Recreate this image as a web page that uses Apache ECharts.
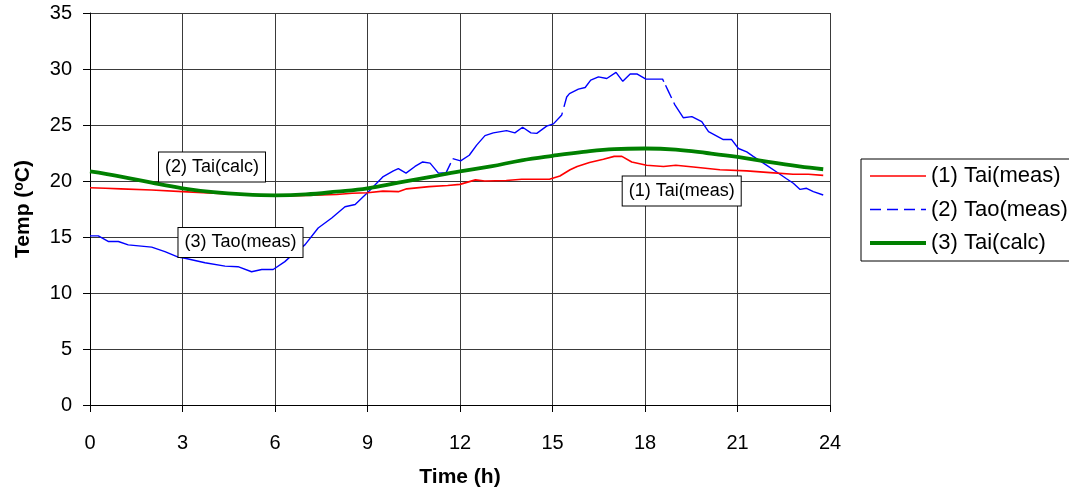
<!DOCTYPE html>
<html>
<head>
<meta charset="utf-8">
<script src="https://cdn.jsdelivr.net/npm/echarts@6/dist/echarts.min.js"></script>
<style>
  html, body { margin: 0; padding: 0; background: #fff; }
  #chart { width: 1069px; height: 497px; }
</style>
</head>
<body>
<div id="chart"></div>
<script>
// Hourly axis ticks
var xTicks = [0, 3, 6, 9, 12, 15, 18, 21, 24];
var yTicks = [0, 5, 10, 15, 20, 25, 30, 35];

// (1) Indoor air temperature, measured
var taiMeasHours = [0, 0.5, 1, 2, 3, 4, 5, 6, 7, 8, 8.5, 9, 9.5, 10, 10.27, 11, 11.6, 12, 12.5, 12.8, 13.5, 14, 14.9,
  15.24, 15.57, 15.8, 16.2, 16.65, 17.0, 17.25, 17.57, 18.05, 18.6, 19.0, 19.57, 20.43, 21.3, 22.06, 22.8, 23.3, 23.78];
var taiMeasValues = [19.4, 19.35, 19.3, 19.2, 19.05, 18.9, 18.8, 18.65, 18.7, 18.8, 18.9, 18.95, 19.1, 19.05, 19.3, 19.5, 19.6, 19.7, 20.1, 20.0, 20.05, 20.15, 20.15,
  20.45, 21.0, 21.3, 21.65, 21.95, 22.2, 22.2, 21.7, 21.4, 21.3, 21.4, 21.25, 21.0, 20.9, 20.75, 20.6, 20.6, 20.5];

// (2) Outdoor air temperature, measured
var taoMeasHours = [0, 0.27, 0.59, 0.92, 1.24, 2.0, 2.43, 2.86, 3.08, 3.73, 4.38, 4.8, 5.24, 5.57, 5.94, 6.32, 6.6, 6.97,
  7.4, 7.84, 8.27, 8.6, 9.03, 9.51, 9.84, 10.0, 10.25, 10.54, 10.79, 11.03, 11.3, 11.55, 11.7, 11.76, 12.02, 12.3, 12.54,
  12.81, 13.08, 13.51, 13.78, 14.03, 14.3, 14.49, 14.81, 15.03, 15.3, 15.46, 15.55, 15.84, 16.06, 16.24, 16.49, 16.76,
  17.06, 17.28, 17.52, 17.75, 18.03, 18.33, 18.57, 18.76, 18.97, 19.24, 19.52, 19.84, 20.06, 20.27, 20.54, 20.81, 21.03,
  21.3, 21.51, 21.95, 22.27, 22.59, 22.81, 23.03, 23.24, 23.46, 23.78];
var taoMeasValues = [15.1, 15.1, 14.6, 14.6, 14.3, 14.1, 13.7, 13.2, 13.1, 12.7, 12.4, 12.35, 11.9, 12.1, 12.1, 12.8, 13.5, 14.3,
  15.8, 16.7, 17.7, 17.9, 19.05, 20.4, 20.9, 21.1, 20.7, 21.3, 21.7, 21.6, 20.7, 20.75, 21.6, 22.0, 21.8, 22.3, 23.2,
  24.05, 24.3, 24.5, 24.3, 24.8, 24.3, 24.25, 24.9, 25.1, 25.9, 27.5, 27.8, 28.2, 28.35, 29.0, 29.3, 29.15,
  29.7, 28.9, 29.55, 29.55, 29.1, 29.1, 29.1, 28.0, 26.8, 25.65, 25.75, 25.3, 24.4, 24.1, 23.7, 23.7, 22.9,
  22.6, 22.2, 21.4, 20.8, 20.2, 19.8, 19.25, 19.35, 19.05, 18.75];

// (3) Indoor air temperature, calculated
var taiCalcHours = [0, 1, 2, 3, 4, 5, 6, 7, 8, 9, 10, 11, 12, 13, 14, 15, 16, 17, 18, 19, 20, 21, 22, 23, 23.78];
var taiCalcValues = [20.85, 20.4, 19.85, 19.35, 19.0, 18.8, 18.72, 18.8, 19.05, 19.35, 19.85, 20.35, 20.85, 21.3, 21.85,
  22.25, 22.6, 22.85, 22.9, 22.8, 22.5, 22.15, 21.7, 21.3, 21.05];

var seriesNames = ['(1) Tai(meas)', '(2) Tao(meas)', '(3) Tai(calc)'];

function pairs(xs, ys) {
  return xs.map(function (x, i) { return [x, ys[i]]; });
}

var FONT = '"Liberation Sans", Arial, sans-serif';
var chart = echarts.init(document.getElementById('chart'), null, { renderer: 'canvas' });

// Long-dash stroke for the outdoor series (dash / gap lengths in px along the path)
var taoDash = [420, 5, 134, 6, 127, 4, 14, 5, 3000, 1];

var option = {
  backgroundColor: '#ffffff',
  animation: false,
  grid: { left: 90, right: 239, top: 13, bottom: 92, containLabel: false },
  xAxis: {
    type: 'value',
    min: xTicks[0],
    max: xTicks[xTicks.length - 1],
    interval: 3,
    name: 'Time (h)',
    nameLocation: 'middle',
    nameGap: 62,
    nameTextStyle: { fontFamily: FONT, fontSize: 21, fontWeight: 'bold', color: '#000' },
    axisLine: { show: true, onZero: false, lineStyle: { color: '#000', width: 1 } },
    axisTick: { show: true, inside: false, length: 7, lineStyle: { color: '#000' } },
    axisLabel: { fontFamily: FONT, fontSize: 20, color: '#000', margin: 28 },
    splitLine: { show: true, lineStyle: { color: '#3a3a3a', width: 1 } }
  },
  yAxis: {
    type: 'value',
    min: yTicks[0],
    max: yTicks[yTicks.length - 1],
    interval: 5,
    name: '{t|Temp (}{s|o}{t|C)}',
    nameLocation: 'middle',
    nameGap: 56,
    nameRotate: 90,
    nameTextStyle: {
      rich: {
        t: { fontFamily: FONT, fontSize: 21, fontWeight: 'bold', color: '#000' },
        s: { fontFamily: FONT, fontSize: 14, fontWeight: 'bold', color: '#000', verticalAlign: 'top', padding: [0, 0, 8, 0] }
      }
    },
    axisLine: { show: true, lineStyle: { color: '#000', width: 1 } },
    axisTick: { show: true, inside: false, length: 7, lineStyle: { color: '#000' } },
    axisLabel: { fontFamily: FONT, fontSize: 20, color: '#000', margin: 18 },
    splitLine: { show: true, lineStyle: { color: '#3a3a3a', width: 1 } }
  },
  legend: {
    orient: 'vertical',
    left: 861,
    top: 159,
    padding: [5, 8, 6, 7],
    itemGap: 9.5,
    itemWidth: 56,
    itemHeight: 14,
    borderColor: '#000',
    borderWidth: 1,
    backgroundColor: '#fff',
    itemStyle: { opacity: 0 },
    textStyle: { fontFamily: FONT, fontSize: 22, color: '#000', lineHeight: 24 },
    data: [
      { name: seriesNames[0], lineStyle: { width: 1.5 } },
      { name: seriesNames[1], lineStyle: { type: [11, 6], width: 1.5 } },
      { name: seriesNames[2], lineStyle: { width: 4 } }
    ]
  },
  series: [
    {
      name: seriesNames[0],
      type: 'line',
      data: pairs(taiMeasHours, taiMeasValues),
      symbol: 'none',
      lineStyle: { color: '#ff0000', width: 1.6 },
      itemStyle: { color: '#ff0000' },
      z: 3
    },
    {
      name: seriesNames[1],
      type: 'line',
      data: pairs(taoMeasHours, taoMeasValues),
      symbol: 'none',
      lineStyle: { color: '#0000ff', width: 1.4, type: taoDash },
      itemStyle: { color: '#0000ff' },
      z: 2
    },
    {
      name: seriesNames[2],
      type: 'line',
      data: pairs(taiCalcHours, taiCalcValues),
      symbol: 'none',
      smooth: 0.4,
      lineStyle: { color: '#008000', width: 3.8 },
      itemStyle: { color: '#008000' },
      z: 4
    }
  ],
  graphic: [
    { type: 'text', x: 212, y: 167, z: 10, style: { text: '(2) Tai(calc)', font: '18px ' + FONT, fill: '#000', align: 'center', verticalAlign: 'middle', backgroundColor: '#fff', borderColor: '#000', borderWidth: 1, padding: [6, 6, 5, 6] } },
    { type: 'text', x: 240.5, y: 242.5, z: 10, style: { text: '(3) Tao(meas)', font: '18px ' + FONT, fill: '#000', align: 'center', verticalAlign: 'middle', backgroundColor: '#fff', borderColor: '#000', borderWidth: 1, padding: [6, 6, 5, 6] } },
    { type: 'text', x: 681.7, y: 191, z: 10, style: { text: '(1) Tai(meas)', font: '18px ' + FONT, fill: '#000', align: 'center', verticalAlign: 'middle', backgroundColor: '#fff', borderColor: '#000', borderWidth: 1, padding: [6, 6, 5, 6] } }
  ]
};

chart.setOption(option);
</script>
</body>
</html>
